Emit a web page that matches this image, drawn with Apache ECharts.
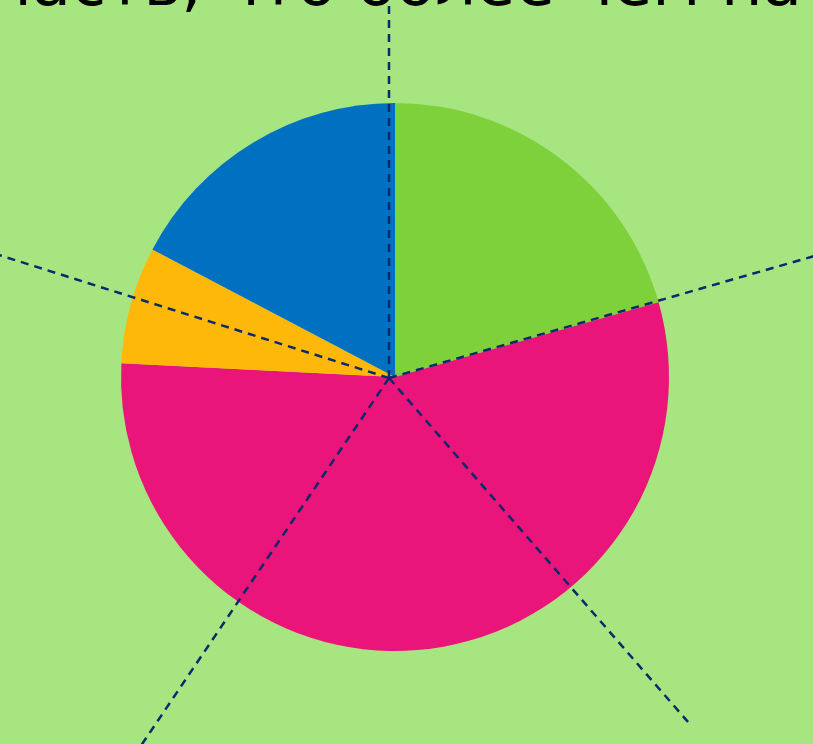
<!DOCTYPE html>
<html>
<head>
<meta charset="utf-8">
<script src="https://cdn.jsdelivr.net/npm/echarts@6/dist/echarts.min.js"></script>
<style>
  html, body { margin: 0; padding: 0; background: #a7e581; }
  #chart { width: 813px; height: 744px; }
</style>
</head>
<body>
<div id="chart"></div>
<script>
// доли секторов (по часовой стрелке от 12 часов)
var sliceNames = ["A", "B", "C", "D"];
var sliceValues = [20.6, 55.2, 6.9, 17.3];
var sliceColors = ["#7fd13b", "#ea157a", "#feb80a", "#0070c0"];
// углы пунктирных лучей, градусы по часовой от верха
var rayAngles = [0, 74, 139, 214, 287.5];
var headText = "часть, что более чем на";

var chart = echarts.init(document.getElementById("chart"));

var rays = rayAngles.map(function (a) {
  return {
    type: "line",
    coordinateSystem: "polar",
    data: [[0, a], [1, a]],
    symbol: "none",
    silent: true,
    z: 5,
    lineStyle: { color: "#0b2a6b", width: 2.5, type: [8, 6] }
  };
});

chart.setOption({
  backgroundColor: "#a7e581",
  animation: false,
  graphic: [
    {
      type: "text",
      left: -6,
      top: -44,
      z: 10,
      style: {
        text: headText,
        fontFamily: "DejaVu Sans",
        fontSize: 64,
        fill: "#000"
      }
    }
  ],
  polar: { center: [389, 378], radius: 456 },
  angleAxis: {
    type: "value",
    min: 0,
    max: 360,
    startAngle: 90,
    clockwise: true,
    show: false
  },
  radiusAxis: { type: "value", min: 0, max: 1, show: false },
  series: [
    {
      type: "pie",
      center: [395, 377],
      radius: 274,
      startAngle: 90,
      clockwise: true,
      silent: true,
      label: { show: false },
      labelLine: { show: false },
      z: 2,
      data: sliceNames.map(function (n, i) {
        return { name: n, value: sliceValues[i], itemStyle: { color: sliceColors[i] } };
      })
    }
  ].concat(rays)
});
</script>
</body>
</html>
